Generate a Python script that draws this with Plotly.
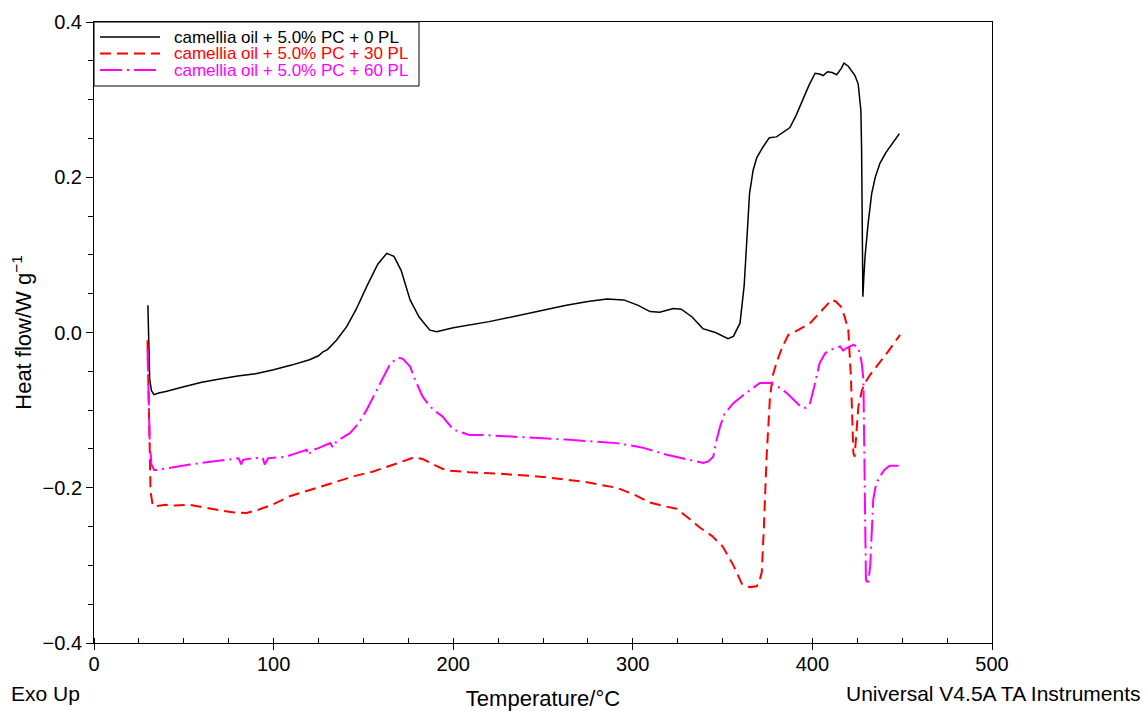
import plotly.graph_objects as go

# Temperature (°C) and heat flow (W/g) for each sample
t_0pl = [30, 30.3, 31, 32, 33.4, 36, 40, 50, 60, 70, 80, 90, 100, 110, 115, 120, 125, 127.5, 130, 135,
         140.7, 146, 152, 158, 163, 167, 171, 176, 181, 187, 190.8, 200, 220, 240, 263, 275, 285.5, 295, 303, 309.6,
         315, 322.5, 327, 333, 339, 346, 353, 356, 359.7, 362, 364, 365, 367, 369, 372.5, 376, 380, 384, 387.5, 391,
         395, 398, 401.5, 404, 406, 408.5, 411, 413.5, 416, 417.6, 420, 423.7, 425.5, 427, 427.4, 427.8, 428.1, 428.6,
         429.3, 431, 433, 435, 437.6, 441, 445, 448.4]
hf_0pl = [0.035, -0.010, -0.060, -0.075, -0.080, -0.078, -0.076, -0.070, -0.064, -0.060, -0.056, -0.053, -0.048,
          -0.042, -0.039, -0.035, -0.030, -0.025, -0.022, -0.010,
          0.0075, 0.030, 0.060, 0.088, 0.102, 0.098, 0.080, 0.042, 0.020, 0.003, 0.001, 0.006, 0.014, 0.024, 0.035,
          0.040, 0.043, 0.042, 0.035, 0.027,
          0.026, 0.031, 0.030, 0.020, 0.005, 0.000, -0.008, -0.005, 0.012, 0.060, 0.150, 0.179, 0.209, 0.225, 0.239,
          0.251, 0.252, 0.258, 0.264, 0.280,
          0.303, 0.318, 0.334, 0.333, 0.331, 0.336, 0.335, 0.332, 0.340, 0.347, 0.343, 0.331, 0.320, 0.286, 0.235,
          0.120, 0.046, 0.070,
          0.0975, 0.140, 0.179, 0.200, 0.218, 0.232, 0.245, 0.256]

t_30pl = [29.8, 30.2, 30.8, 31.5, 32.5, 33, 40, 45, 53.5, 60, 70, 78, 85, 92, 100, 109, 120, 137, 145, 155.5,
          165, 172, 178, 183, 189, 194, 198, 209, 226, 250, 272, 291, 300, 309.6, 318, 324.4, 332, 337.5, 344, 350,
          356, 361, 365, 369, 370.5, 371.8, 373, 374.5, 376.4, 378, 380, 383, 386.6, 392, 398.7, 404, 408, 410.7,
          413, 416, 418, 420, 421.5, 422.8, 423.5, 424.3, 425.6, 427.5, 429.3, 432, 435.8, 442, 448.8]
hf_30pl = [-0.010, -0.060, -0.150, -0.205, -0.220, -0.224, -0.222, -0.223, -0.222, -0.225, -0.229, -0.232, -0.2325,
           -0.228, -0.221, -0.211, -0.203, -0.190, -0.185, -0.179,
           -0.172, -0.166, -0.161, -0.163, -0.170, -0.1755, -0.178, -0.180, -0.182, -0.186, -0.192, -0.200, -0.208,
           -0.219, -0.224, -0.227, -0.241, -0.2515, -0.262, -0.2755,
           -0.300, -0.325, -0.328, -0.327, -0.320, -0.309, -0.250, -0.160, -0.0825, -0.055, -0.039, -0.020, -0.003,
           0.003, 0.012, 0.025, 0.036, 0.042,
           0.040, 0.033, 0.020, 0.003, -0.060, -0.155, -0.160, -0.130, -0.0955, -0.075, -0.065, -0.055, -0.044,
           -0.025, -0.003]

t_60pl = [29.8, 30.3, 31, 32, 33.5, 35, 40, 45, 53.5, 60, 70, 79.4, 80.5, 82, 83, 88, 94, 95, 96, 97,
          102, 107, 112, 118.4, 119.5, 121, 125, 131.5, 133, 135, 142.5, 147, 151.8, 156, 161, 165, 169.4, 172, 176,
          179, 183, 186, 189, 194, 200, 209, 216.6, 240, 263, 291, 305, 319, 330, 339.3, 342, 344.8, 346.5, 348.6,
          351, 356, 363, 370.8, 376.4, 381, 385.7, 390, 394, 396.5, 398.7, 401, 404, 407, 409.8, 413, 415.4, 417.2,
          419, 422.8, 425, 426.5, 427.5, 428.4, 429.1, 429.8, 431, 432.2, 433.9, 435.5, 437.6, 440, 443, 448.8]
hf_60pl = [-0.022, -0.080, -0.140, -0.170, -0.177, -0.177, -0.175, -0.173, -0.170, -0.168, -0.165, -0.162, -0.162,
           -0.170, -0.164, -0.162, -0.1615, -0.170, -0.165, -0.162,
           -0.161, -0.160, -0.156, -0.151, -0.158, -0.152, -0.149, -0.1425, -0.148, -0.140, -0.1297, -0.118, -0.0997,
           -0.080, -0.057, -0.040, -0.0324, -0.034, -0.044,
           -0.062, -0.0826, -0.092, -0.0997, -0.108, -0.125, -0.132, -0.132, -0.135, -0.138, -0.1425, -0.148, -0.1576,
           -0.163, -0.168, -0.166, -0.160, -0.140, -0.121,
           -0.105, -0.091, -0.078, -0.065, -0.065, -0.070, -0.078, -0.088, -0.0967, -0.097, -0.091, -0.070, -0.0396,
           -0.027, -0.0225, -0.020, -0.018, -0.0234,
           -0.020, -0.016, -0.018, -0.027, -0.040, -0.061, -0.180, -0.318, -0.325, -0.300, -0.215, -0.195, -0.1855,
           -0.177, -0.1717, -0.1717]

series_names = ["camellia oil + 5.0% PC + 0 PL",
                "camellia oil + 5.0% PC + 30 PL",
                "camellia oil + 5.0% PC + 60 PL"]
y_ticks = [-0.4, -0.2, 0.0, 0.2, 0.4]
x_ticks = [0, 100, 200, 300, 400, 500]

FONT = "Liberation Sans, Arial, sans-serif"
L, R, T, B = 94, 155, 22, 68
W, H = 1147, 711
PW, PH = W - L - R, H - T - B


def px_x(px):
    return (px - L) / PW


def px_y(py):
    return (H - B - py) / PH


fig = go.Figure()
styles = [("#000000", "solid", 1.5), ("#ff0000", "11px,6px", 2), ("#ff00ff", "22px,5px,2px,5px", 2)]
series = [(t_0pl, hf_0pl), (t_30pl, hf_30pl), (t_60pl, hf_60pl)]
for (t, hf), name, (col, dash, w) in zip(series, series_names, styles):
    fig.add_trace(go.Scatter(
        x=t, y=hf, mode="lines", name=name, showlegend=False,
        line=dict(color=col, dash=dash, width=w),
    ))

# legend box drawn in the top-left corner of the plot
shapes = [dict(type="rect", xref="paper", yref="paper", x0=px_x(94), x1=px_x(419), y0=px_y(86), y1=px_y(22),
               line=dict(color="black", width=1), fillcolor="white", layer="above")]
annotations = []
legend_rows = [37, 53.5, 70]
for row, name, (col, dash, w) in zip(legend_rows, series_names, styles):
    shapes.append(dict(type="line", xref="paper", yref="paper", x0=px_x(100), x1=px_x(160),
                       y0=px_y(row), y1=px_y(row), line=dict(color=col, dash=dash, width=w), layer="above"))
    annotations.append(dict(text=name, xref="paper", yref="paper", x=px_x(172), y=px_y(row),
                            xanchor="left", yanchor="middle", showarrow=False,
                            font=dict(size=17, color=col)))

annotations += [
    dict(text="Exo Up", xref="paper", yref="paper", x=px_x(9), y=px_y(693),
         xanchor="left", yanchor="middle", showarrow=False, font=dict(size=21)),
    dict(text="Universal V4.5A TA Instruments", xref="paper", yref="paper", x=px_x(1143), y=px_y(693),
         xanchor="right", yanchor="middle", showarrow=False, font=dict(size=21)),
]

fig.update_layout(
    width=W, height=H,
    margin=dict(l=L, r=R, t=T, b=B),
    paper_bgcolor="white", plot_bgcolor="white",
    font=dict(family=FONT, size=20, color="black"),
    showlegend=False,
    xaxis=dict(range=[0, 500], tickvals=x_ticks, ticks="outside", ticklen=6, tickcolor="black",
               showline=True, linecolor="black", linewidth=1, mirror=True,
               showgrid=False, zeroline=False, automargin=False, ticklabelstandoff=-3,
               minor=dict(dtick=25, ticks="inside", ticklen=5, tickcolor="black", showgrid=False),
               title=dict(text="Temperature/°C", font=dict(size=22), standoff=18),
               tickfont=dict(size=20)),
    yaxis=dict(range=[-0.4, 0.4], tickvals=y_ticks, tickformat=".1f", ticks="outside", ticklen=7,
               tickcolor="black",
               showline=True, linecolor="black", linewidth=1, mirror=True,
               showgrid=False, zeroline=False, automargin=False,
               minor=dict(dtick=0.05, ticks="outside", ticklen=5, tickcolor="black", showgrid=False),
               title=dict(text="Heat flow/W g<sup>−1</sup>", font=dict(size=22), standoff=4),
               tickfont=dict(size=20)),
    shapes=shapes,
    annotations=annotations,
)

fig.write_html("out.html", config={"displayModeBar": False},
               post_script="document.body.style.margin='0';document.body.style.overflow='hidden';")
